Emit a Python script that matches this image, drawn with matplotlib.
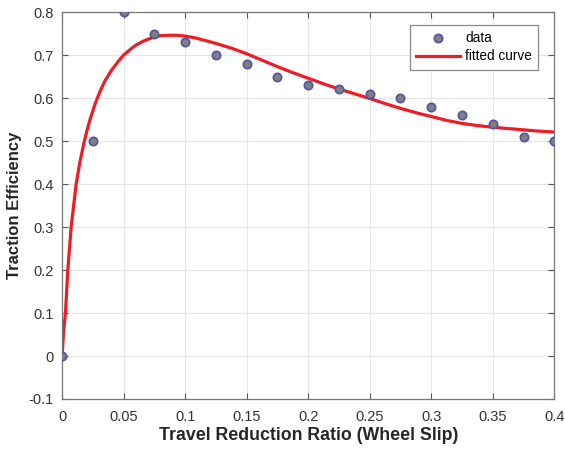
import matplotlib
matplotlib.use('Agg')
import matplotlib.pyplot as plt

plt.rcParams['font.family'] = ['Liberation Sans', 'DejaVu Sans']

# measured data
slip = [0, 0.025, 0.05, 0.075, 0.1, 0.125, 0.15, 0.175, 0.2, 0.225,
        0.25, 0.275, 0.3, 0.325, 0.35, 0.375, 0.4]
eff = [0, 0.50, 0.80, 0.75, 0.73, 0.70, 0.68, 0.65, 0.63, 0.62,
       0.61, 0.60, 0.58, 0.56, 0.54, 0.51, 0.50]

# fitted curve
fit_x = [0, 0.001, 0.0027, 0.0046, 0.0073, 0.0114, 0.0145, 0.0178, 0.0205,
         0.023, 0.027, 0.031, 0.035, 0.040, 0.0458, 0.050, 0.0566, 0.060,
         0.065, 0.070, 0.075, 0.080, 0.0865, 0.093, 0.1, 0.108, 0.116, 0.125,
         0.1375, 0.15, 0.1625, 0.175, 0.1875, 0.2, 0.2125, 0.225, 0.2375, 0.25,
         0.2625, 0.275, 0.2875, 0.3, 0.3125, 0.325, 0.3375, 0.35, 0.3625,
         0.375, 0.3875, 0.4]
fit_y = [0, 0.05, 0.10, 0.20, 0.30, 0.40, 0.452, 0.497, 0.528,
         0.553, 0.588, 0.617, 0.641, 0.664, 0.686, 0.700, 0.716, 0.723,
         0.731, 0.737, 0.742, 0.745, 0.746, 0.746, 0.744, 0.740, 0.734, 0.727,
         0.716, 0.703, 0.688, 0.673, 0.659, 0.646, 0.633, 0.621, 0.610, 0.599,
         0.587, 0.576, 0.566, 0.557, 0.548, 0.541, 0.536, 0.532, 0.529,
         0.526, 0.523, 0.521]

fig = plt.figure(figsize=(5.65, 4.51), dpi=100)
ax = fig.add_axes([0.110, 0.1153, 0.871, 0.858])

ax.plot(slip, eff, 'o', ms=6, mfc='#7f7f7f', mec='#4f55a8', mew=1.2, label='data', zorder=3)
ax.plot(fit_x, fit_y, '-', color='#ee1c24', lw=2.3, label='fitted curve', zorder=2)

ax.set_xlim(0, 0.4)
ax.set_ylim(-0.1, 0.8)
ax.set_xticks([0, 0.05, 0.1, 0.15, 0.2, 0.25, 0.3, 0.35, 0.4])
ax.set_xticklabels(['0', '0.05', '0.1', '0.15', '0.2', '0.25', '0.3', '0.35', '0.4'])
ax.set_yticks([-0.1, 0, 0.1, 0.2, 0.3, 0.4, 0.5, 0.6, 0.7, 0.8])
ax.set_yticklabels(['-0.1', '0', '0.1', '0.2', '0.3', '0.4', '0.5', '0.6', '0.7', '0.8'])
ax.grid(True, color='#e6e6e6', lw=0.8)
ax.set_axisbelow(True)
ax.tick_params(direction='in', top=True, right=True, length=4, colors='#555555',
               labelcolor='#333333', labelsize=10.5)
ax.tick_params(axis='x', pad=8)
ax.tick_params(axis='y', pad=6)
for s in ax.spines.values():
    s.set_color('#777777')
    s.set_linewidth(0.9)

ax.set_xlabel('Travel Reduction Ratio (Wheel Slip)', fontsize=12.8, fontweight='bold',
              color='#262626', labelpad=2)
ax.set_ylabel('Traction Efficiency', fontsize=12, fontweight='bold',
              color='#262626', labelpad=5)

leg = ax.legend(loc='upper right', bbox_to_anchor=(0.9675, 0.966), borderaxespad=0,
                fontsize=9.8, fancybox=False, edgecolor='#888888', framealpha=1,
                handlelength=3.2, handletextpad=0.4, borderpad=0.45, labelspacing=0.3)
leg.get_frame().set_linewidth(0.9)

fig.savefig('out.png', dpi=100)
